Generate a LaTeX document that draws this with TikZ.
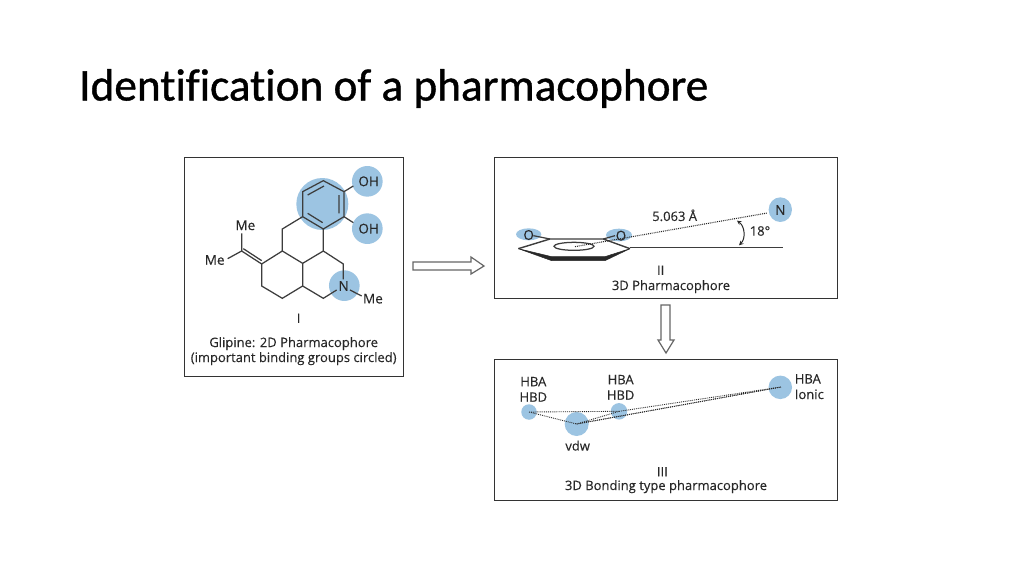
\documentclass[tikz,border=0pt]{standalone}
\usepackage{fontspec}
\setmainfont{Carlito}
\newfontfamily\figfont[FakeBold=0.2]{Open Sans}
\newfontfamily\titlefont[FakeBold=0.9,RawFeature={-liga;-dlig}]{Carlito}
\usetikzlibrary{calc}
\definecolor{blob}{RGB}{156,196,226}
\definecolor{ink}{RGB}{40,40,40}
\tikzset{
  panel/.style={draw=black!80,line width=1pt,fill=white},
  bond/.style={draw=ink!90,line width=1.25pt},
  lab/.style={font=\figfont\fontsize{13}{15}\selectfont,text=ink,inner sep=0pt,align=center},
  atom/.style={lab,font=\figfont\fontsize{13.5}{15}\selectfont},
  dots/.style={draw=ink,line width=0.9pt,densely dotted},
  hollow/.style={draw=black!60,line width=1.2pt,fill=white},
  pt/.style={fill=blob,draw=none,circle,inner sep=0pt}
}
\begin{document}
\begin{tikzpicture}[x=1pt,y=-1pt]
\useasboundingbox (0,0) rectangle (1024,576);
\fill[white] (0,0) rectangle (1024,576);
\node[anchor=base west,inner sep=0pt,text=black] (title) at (79,100.5) {\titlefont\fontsize{45.3}{50}\selectfont Identification of a pharmacophore};
\node[panel,minimum width=219pt,minimum height=219pt,inner sep=0pt] (p1) at (293.5,266.5) {};
\node[panel,minimum width=343.5pt,minimum height=141pt,inner sep=0pt] (p2) at (666,227.5) {};
\node[panel,minimum width=343.5pt,minimum height=141pt,inner sep=0pt] (p3) at (666,429.5) {};
% --- panel I
\begin{scope}[shift={(180,150)},x=0.3333pt,y=-0.3333pt]
\fill[blob] (427,162) circle (78);
\fill[blob] (562,94) circle (46);
\fill[blob] (562,236) circle (46);
\fill[blob] (493,407) circle (46);
\draw[bond] (430,92)--(492,125)--(492,200)--(430,237)--(368,200)--(368,125)--cycle;
\draw[bond] (432,108)--(383,135) (477,135)--(477,190) (383,190)--(428,218);
\draw[bond] (492,125)--(520,108) (492,200)--(520,218);
\draw[bond] (368,200)--(307,237)--(307,303)--(368,340)--(430,303)--(430,237);
\draw[bond] (430,303)--(490,342)--(490,388) (470,420)--(430,445)--(368,408)--(368,340);
\draw[bond] (307,303)--(245,342)--(245,408)--(307,445)--(368,408);
\draw[bond] (245,342)--(185,303) (245,332)--(190,296);
\draw[bond] (185,303)--(185,250) (185,303)--(143,326);
\draw[bond] (510,420)--(545,438);
\node[atom] (oh1) at (566,94) {OH};
\node[atom] (oh2) at (566,236) {OH};
\node[atom] (me1) at (196,226) {Me};
\node[atom] (me2) at (104,330) {Me};
\node[atom] (n1) at (491,408) {N};
\node[atom] (me3) at (579,446) {Me};
\node[lab] (c1a) at (356,505) {I};
\node[lab] (c1b) at (341,581) {Glipine: 2D Pharmacophore};
\node[lab] (c1c) at (341,626) {(important binding groups circled)};
\end{scope}
% --- panel II
\begin{scope}[shift={(490,150)},x=0.3333pt,y=-0.3333pt]
\fill[blob] (116,253) ellipse (38 and 18);
\fill[blob] (387,255) ellipse (39 and 19);
\fill[blob] (871,179) ellipse (35 and 37);
\draw[bond,line width=1.4pt] (85,296)--(180,267)--(340,267)--(420,296);
\draw[fill=ink,draw=ink,line width=0.5pt] (85,296)--(185,320)--(345,320)--(420,296)--(345,332)--(185,332)--cycle;
\draw[bond] (252,289) ellipse (60 and 12);
\draw[bond] (130,257)--(180,267) (340,267)--(375,257);
\draw[bond] (420,292)--(878,292);
\draw[dots,line width=1.1pt] (255,290)--(832,189);
\node[atom] (o1) at (116,255) {O};
\node[atom] (o2) at (393,257) {O};
\node[atom] (n2) at (871,180) {N};
\node[lab] (d) at (554,196) {5.063 Å};
\node[lab] (ang) at (810,243) {18°};
\coordinate (a1) at (741,212);
\coordinate (a2) at (747,286);
\draw[ink,line width=1pt,<->,>=stealth] (a1) to[bend left=50] (a2);
\node[lab] (c2a) at (512,361) {II};
\node[lab] (c2b) at (543,410) {3D Pharmacophore};
\end{scope}
% --- panel III
\begin{scope}[shift={(490,355)},x=0.3333pt,y=-0.3333pt]
\node[pt,minimum size=15.5pt] (b1) at (117,171) {};
\node[pt,minimum size=24pt] (b2) at (260,207) {};
\node[pt,minimum size=16.5pt] (b3) at (387,169) {};
\node[pt,minimum size=23.5pt] (b4) at (871,97) {};
\coordinate (k1) at (117,171);
\coordinate (k2) at (260,207);
\coordinate (k3) at (387,169);
\coordinate (k4) at (873,96);
\draw[dots] (k1)--(k2) (k1)--(k3) (k2)--(k3) (k3)--(k4) (k2)--(k4);
\draw[dots,yshift=0.5pt] (k2)--(k4);
\node[lab] (t1) at (130,103) {HBA\\[0.5pt]HBD};
\node[lab] (t2) at (392,97) {HBA\\[0.5pt]HBD};
\node[lab,align=left] (t3) at (958,95) {HBA\\[0.5pt]Ionic};
\node[lab] (t4) at (263,272) {vdw};
\node[lab] (c3a) at (517,350) {III};
\node[lab] (c3b) at (528,395) {3D Bonding type pharmacophore};
\end{scope}
% --- arrows
\draw[hollow] (413,262)--(471,262)--(471,257)--(484,266)--(471,274)--(471,270)--(413,270)--cycle;
\draw[hollow] (661,305)--(670,305)--(670,340)--(674,340)--(666,353)--(658,340)--(661,340)--cycle;
\end{tikzpicture}
\end{document}
